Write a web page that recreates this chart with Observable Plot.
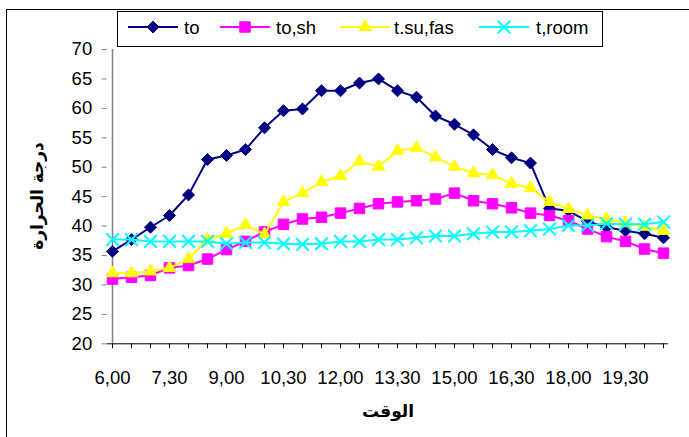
<!DOCTYPE html>
<html>
<head>
<meta charset="utf-8">
<script src="https://cdn.jsdelivr.net/npm/d3@7"></script>
<script src="https://cdn.jsdelivr.net/npm/@observablehq/plot@0.6"></script>
<style>
  body { margin: 0; background: #fff; }
  #wrap { position: relative; width: 689px; height: 437px; overflow: hidden; font-family: "Liberation Sans", Arial, sans-serif; }
  #border { position: absolute; left: 5.5px; top: 9px; width: 700px; height: 440px; border-left: 1px solid #000; border-top: 1px solid #000; }
  #legend { position: absolute; left: 117px; top: 10.5px; width: 484px; height: 34px; border: 1px solid #000; background: #fff; }
  .lab { position: absolute; top: 5px; font-size: 18.5px; white-space: nowrap; }
  #ytitle { position: absolute; left: 37px; top: 196px; transform: translate(-50%, -50%) rotate(-90deg); font-family: "DejaVu Sans", sans-serif; font-weight: bold; font-size: 17px; white-space: nowrap; }
  #xtitle { position: absolute; left: 388px; top: 411px; transform: translate(-50%, -50%); font-family: "DejaVu Sans", sans-serif; font-weight: bold; font-size: 17px; white-space: nowrap; }
  svg.plot { position: absolute; left: 0; top: 0; }
</style>
</head>
<body>
<div id="wrap">
  <div id="border"></div>
</div>
<script>
const times = ["6,00","6,30","7,00","7,30","8,00","8,30","9,00","9,30","10,00","10,30","11,00","11,30","12,00","12,30","13,00","13,30","14,00","14,30","15,00","15,30","16,00","16,30","17,00","17,30","18,00","18,30","19,00","19,30","20,00","20,30"];
const tickLabels = ["6,00","7,30","9,00","10,30","12,00","13,30","15,00","16,30","18,00","19,30"];
const yTicks = [20,25,30,35,40,45,50,55,60,65,70];
const seriesNames = ["to","to,sh","t.su,fas","t,room"];
const to    = [35.7,37.7,39.8,41.8,45.3,51.3,52.0,53.0,56.7,59.6,59.9,63.0,63.0,64.3,65.0,63.0,61.9,58.7,57.3,55.5,53.0,51.6,50.7,43.0,42.6,40.8,39.8,39.2,38.7,38.0];
const toSh  = [31.0,31.3,31.6,32.9,33.3,34.4,36.0,37.4,39.0,40.3,41.2,41.5,42.2,43.0,43.8,44.1,44.3,44.6,45.6,44.3,43.8,43.1,42.2,41.8,40.9,39.5,38.2,37.4,36.1,35.4];
const tSuFas= [32.0,32.0,32.3,32.9,34.4,37.7,38.7,40.2,38.6,44.1,45.6,47.5,48.5,51.0,50.1,52.8,53.3,51.7,50.1,49.0,48.7,47.2,46.5,44.1,42.9,41.8,41.2,40.5,39.9,39.2];
const tRoom = [37.7,37.7,37.4,37.4,37.4,37.4,37.0,37.2,37.2,37.0,36.9,37.0,37.4,37.4,37.7,37.7,38.0,38.3,38.3,38.7,39.0,39.0,39.2,39.5,40.1,40.1,40.4,40.3,40.3,40.7];

const styles = [
  {name: seriesNames[0], values: to,     color: "#000080", symbol: "diamond2", r: 5.4, filled: true},
  {name: seriesNames[1], values: toSh,   color: "#FF00FF", symbol: "square",   r: 5.9, filled: true},
  {name: seriesNames[2], values: tSuFas, color: "#FFFF00", symbol: "triangle", r: 4.6, filled: true},
  {name: seriesNames[3], values: tRoom,  color: "#00FFFF", symbol: "times",    r: 5.8, filled: false}
];

const marks = [
  Plot.ruleY([20], {stroke: "#000", strokeWidth: 1}),
  Plot.axisX({tickSize: 5, tickPadding: 22, fontSize: 18.5, tickFormat: d => tickLabels.includes(d) ? d : "", label: null, stroke: "#000"}),
  Plot.axisY(yTicks, {tickSize: 5, tickPadding: 10, fontSize: 18.5, label: null, stroke: "#808080", fill: "#000"}),
  Plot.ruleX([times[0]], {stroke: "#808080", strokeWidth: 1.5})
];
for (const s of styles) {
  const data = s.values.map((v, i) => ({t: times[i], v}));
  marks.push(Plot.line(data, {x: "t", y: "v", stroke: s.color, strokeWidth: 2}));
  marks.push(Plot.dot(data, {x: "t", y: "v", symbol: s.symbol, r: s.r,
    fill: s.filled ? s.color : "none", stroke: s.color, strokeWidth: s.filled ? 1 : 2}));
}

const chart = Plot.plot({
  width: 689, height: 437,
  marginLeft: 106.7, marginRight: 21, marginTop: 49, marginBottom: 93.7,
  style: {fontFamily: "'Liberation Sans', Arial, sans-serif", fontSize: "18.5px", background: "transparent", overflow: "visible"},
  x: {type: "point", domain: times, padding: 0, axis: null},
  y: {domain: [20, 70], axis: null},
  marks
});
chart.classList.add("plot");
const wrap = document.getElementById("wrap");
wrap.appendChild(chart);

// Legend
const legend = document.createElement("div");
legend.id = "legend";
const itemPos = [{x: 10, tx: 66}, {x: 102, tx: 158}, {x: 222, tx: 276}, {x: 361, tx: 418}];
styles.forEach((s, i) => {
  const p = itemPos[i];
  const svg = d3.create("svg").attr("width", 52).attr("height", 34)
    .style("position", "absolute").style("left", p.x + "px").style("top", "0px");
  svg.append("line").attr("x1", 0).attr("x2", 50).attr("y1", 15).attr("y2", 15)
    .attr("stroke", s.color).attr("stroke-width", 2);
  const sym = {diamond2: d3.symbolDiamond2, square: d3.symbolSquare, triangle: d3.symbolTriangle, times: d3.symbolTimes}[s.symbol];
  svg.append("path").attr("transform", "translate(25,15)")
    .attr("d", d3.symbol(sym, Math.PI * s.r * s.r)())
    .attr("fill", s.filled ? s.color : "none").attr("stroke", s.color).attr("stroke-width", s.filled ? 1 : 2);
  legend.appendChild(svg.node());
  const lab = document.createElement("div");
  lab.className = "lab";
  lab.style.left = p.tx + "px";
  lab.textContent = s.name;
  legend.appendChild(lab);
});
wrap.appendChild(legend);

const yt = document.createElement("div");
yt.id = "ytitle"; yt.textContent = "درجة الحرارة";
wrap.appendChild(yt);
const xt = document.createElement("div");
xt.id = "xtitle"; xt.textContent = "الوقت";
wrap.appendChild(xt);
</script>
</body>
</html>
